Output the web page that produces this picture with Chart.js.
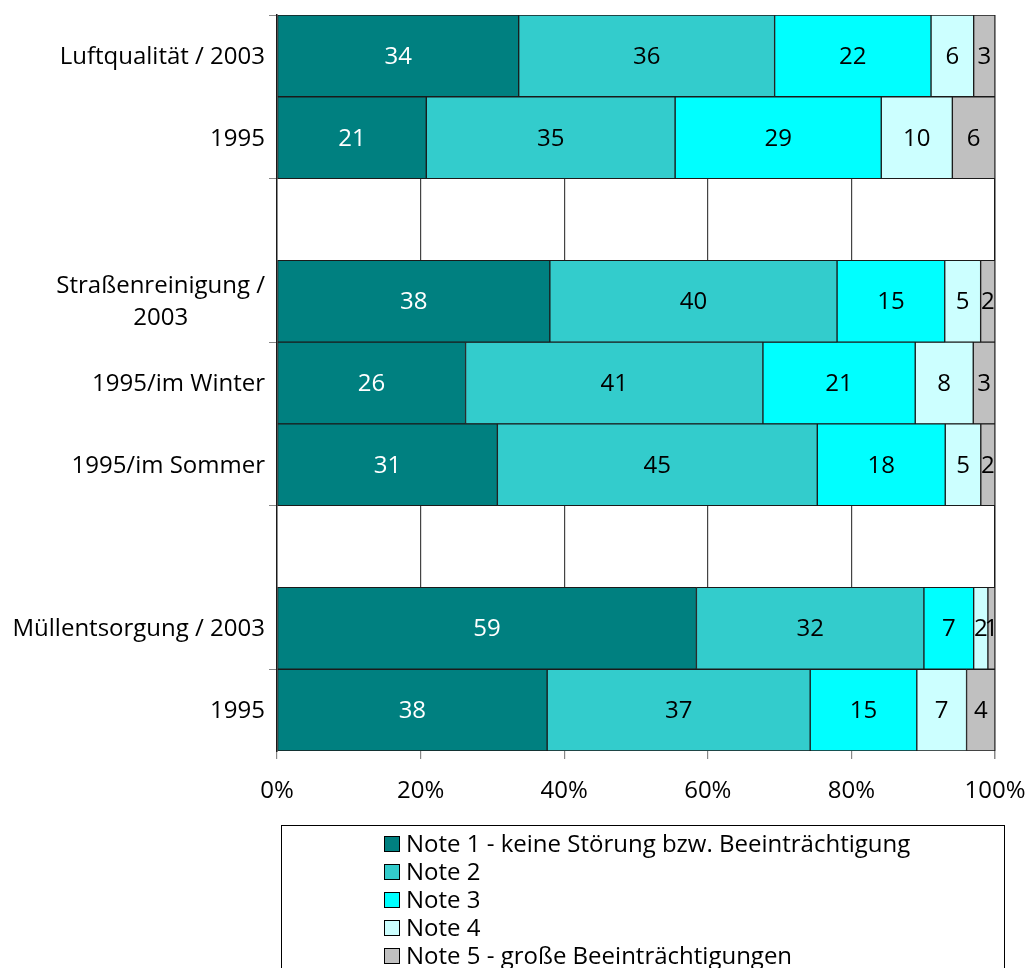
<!DOCTYPE html>
<html>
<head>
<meta charset="utf-8">
<script src="https://cdn.jsdelivr.net/npm/chart.js@4.4.1/dist/chart.umd.min.js"></script>
<style>
  body { margin: 0; background: #fff; }
  canvas { display: block; }
</style>
</head>
<body>
<canvas id="chart" width="1032" height="968"></canvas>
<script>
const categories = [
  'Luftqualität / 2003', '1995', '',
  ['Straßenreinigung /', '2003'], '1995/im Winter', '1995/im Sommer', '',
  'Müllentsorgung / 2003', '1995'
];
const seriesNames = [
  'Note 1 - keine Störung bzw. Beeinträchtigung',
  'Note 2',
  'Note 3',
  'Note 4',
  'Note 5 - große Beeinträchtigungen'
];
const note1 = [34, 21, null, 38, 26, 31, null, 59, 38];
const note2 = [36, 35, null, 40, 41, 45, null, 32, 37];
const note3 = [22, 29, null, 15, 21, 18, null, 7, 15];
const note4 = [6, 10, null, 5, 8, 5, null, 2, 7];
const note5 = [3, 6, null, 2, 3, 2, null, 1, 4];
const xTicks = [0, 20, 40, 60, 80, 100];

const colors = ['#008080', '#33cccc', '#00ffff', '#ccffff', '#c0c0c0'];
const FONT = '"Open Sans", sans-serif';
const FS = 24;

const series = [note1, note2, note3, note4, note5];
// 100% stacking: share of each row total
const totals = categories.map((_, i) => series.reduce((s, arr) => s + (arr[i] || 0), 0));
const datasets = series.map((arr, k) => ({
  label: seriesNames[k],
  raw: arr,
  data: arr.map((v, i) => v == null ? null : v / totals[i] * 100),
  backgroundColor: colors[k],
  borderColor: '#1a1a1a',
  borderWidth: 1,
  borderSkipped: false,
  categoryPercentage: 1,
  barPercentage: 1
}));

// values inside the segments
const valueLabels = {
  id: 'valueLabels',
  afterDatasetsDraw(chart) {
    const c = chart.ctx;
    c.save();
    c.font = `${FS}px ${FONT}`;
    c.textAlign = 'center';
    c.textBaseline = 'middle';
    chart.data.datasets.forEach((ds, k) => {
      chart.getDatasetMeta(k).data.forEach((bar, i) => {
        if (ds.raw[i] == null) return;
        c.fillStyle = k === 0 ? '#fff' : '#000';
        c.fillText(String(ds.raw[i]), (bar.x + bar.base) / 2, bar.y + 1);
      });
    });
    c.restore();
  }
};

// category labels: block right aligned, lines centred
const catLabels = {
  id: 'catLabels',
  afterDraw(chart) {
    const c = chart.ctx, y = chart.scales.y;
    c.save();
    c.font = `${FS}px ${FONT}`;
    c.fillStyle = '#000';
    c.textAlign = 'center';
    c.textBaseline = 'middle';
    const right = y.right - 12, lh = 32;
    categories.forEach((lab, i) => {
      const lines = Array.isArray(lab) ? lab : [lab];
      const w = Math.max(...lines.map(l => c.measureText(l).width));
      const cy = y.getPixelForValue(i);
      lines.forEach((l, j) => {
        c.fillText(l, right - w / 2, cy + (j - (lines.length - 1) / 2) * lh + 1);
      });
    });
    c.restore();
  }
};

// boxed legend below the plot
const boxLegend = {
  id: 'boxLegend',
  afterDraw(chart) {
    const c = chart.ctx;
    c.save();
    c.strokeStyle = '#000';
    c.lineWidth = 1;
    c.strokeRect(281.5, 825.5, 723, 160);
    c.font = `${FS}px ${FONT}`;
    c.textBaseline = 'middle';
    chart.data.datasets.forEach((ds, k) => {
      const cy = 844 + k * 28;
      c.fillStyle = ds.backgroundColor;
      c.fillRect(384, cy - 8, 16, 16);
      c.strokeRect(384.5, cy - 7.5, 15, 15);
      c.fillStyle = '#000';
      c.fillText(ds.label, 406, cy + 1);
    });
    c.restore();
  }
};

new Chart(document.getElementById('chart'), {
  type: 'bar',
  data: { labels: categories, datasets },
  options: {
    indexAxis: 'y',
    responsive: false,
    animation: false,
    layout: { padding: { top: 15, right: 37, bottom: 157, left: 0 } },
    plugins: { legend: { display: false }, tooltip: { enabled: false } },
    scales: {
      x: {
        stacked: true,
        min: 0,
        max: 100,
        afterBuildTicks: s => { s.ticks = xTicks.map(v => ({ value: v })); },
        afterFit: s => { s.height = 60; s.paddingLeft = 0; s.paddingRight = 0; },
        border: { display: false },
        grid: {
          color: ctx => ctx.tick && ctx.tick.value === 100 ? '#1a1a1a' : (ctx.tick && ctx.tick.value === 0 ? 'rgba(0,0,0,0)' : '#444'),
          lineWidth: ctx => ctx.tick && ctx.tick.value === 100 ? 1.5 : 1.2,
          tickLength: 8,
          tickColor: '#888'
        },
        ticks: {
          color: '#000',
          padding: 18,
          font: { family: FONT, size: FS },
          callback: v => v + '%'
        }
      },
      y: {
        stacked: true,
        afterFit: s => { s.width = 277; },
        border: { display: true, color: '#1a1a1a', width: 1.5 },
        grid: {
          drawOnChartArea: false,
          offset: true,
          tickLength: 8,
          tickColor: ctx => (ctx.index !== undefined && ctx.index % 2 === 0) ? '#888' : 'rgba(0,0,0,0)'
        },
        ticks: { display: false }
      }
    }
  },
  plugins: [valueLabels, catLabels, boxLegend]
});
</script>
</body>
</html>
